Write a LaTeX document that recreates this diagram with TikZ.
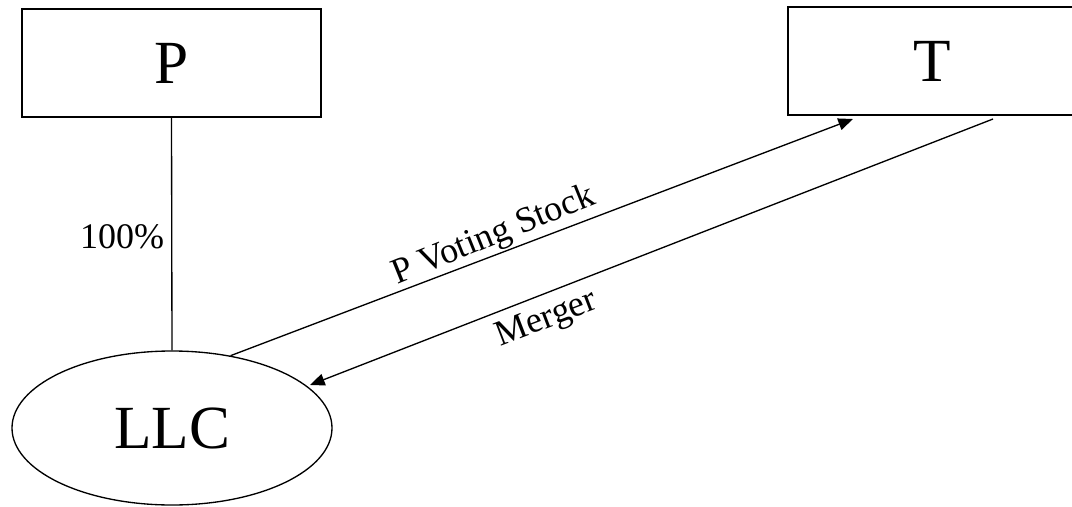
\documentclass[tikz,border=0pt]{standalone}
\usepackage{fontspec}
\setmainfont{Liberation Serif}
\usetikzlibrary{arrows.meta,shapes.geometric}
\begin{document}
\begin{tikzpicture}[x=0.75pt,y=-0.75pt,
  boxnode/.style={draw,line width=1.5pt,rectangle,inner sep=0pt,font=\fontsize{46}{50}\selectfont},
  ovalnode/.style={draw,line width=1pt,ellipse,inner sep=0pt,minimum width=240pt,minimum height=115.5pt,font=\fontsize{46}{50}\selectfont},
  lbl/.style={font=\fontsize{27}{31}\selectfont,inner sep=0pt},
  conn/.style={line width=1pt},
  arr/.style={line width=1pt,-{Triangle[length=11pt,width=9pt]}}]
\useasboundingbox (0,0) rectangle (1072,507);
\node[boxnode,minimum width=224pt,minimum height=81pt] (P) at (171.5,63) {P};
\node[boxnode,minimum width=228pt,minimum height=81pt] (T) at (940,61) {\hspace*{-12pt}T};
\node[ovalnode] (LLC) at (172,428) {LLC};
\coordinate (a1end) at (853,119);
\coordinate (a2start) at (993,119);
\coordinate (a2end) at (310,385);
\draw[conn] (P.south) -- (LLC.north);
\draw[arr] (LLC.51) -- (a1end);
\draw[arr] (a2start) -- (a2end);
\node[lbl] (pct) at (122,237) {100\%};
\node[lbl,rotate=22] (pvs) at (494,236) {P Voting Stock};
\node[lbl,rotate=21] (mrg) at (547,320) {Merger};
\end{tikzpicture}
\end{document}
